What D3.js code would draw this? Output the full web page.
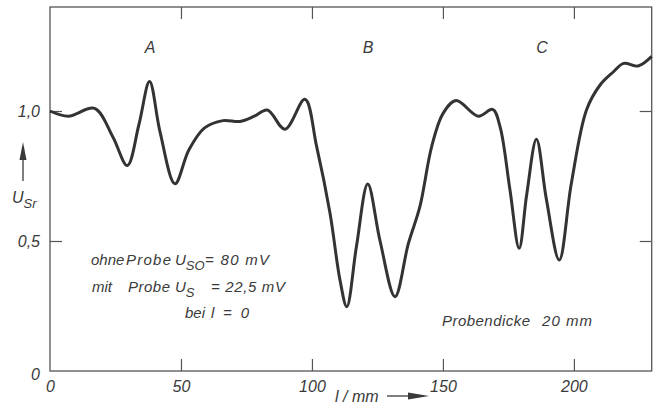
<!DOCTYPE html>
<html><head><meta charset="utf-8">
<script src="https://cdn.jsdelivr.net/npm/d3@7"></script>
<style>
html,body{margin:0;padding:0;background:#fff;}
svg text{font-family:"Liberation Sans","DejaVu Sans",sans-serif;font-style:italic;fill:#3a3a3a;}
</style></head>
<body><svg id="c" width="654" height="411"></svg>
<script>
// data: l / mm versus U_Sr
const lValues = [0, 7, 17, 24, 29.5, 34, 38, 42, 47.7, 53, 59, 66, 72.5, 78, 83, 89.7, 97.3, 101.8, 106.9, 110.7, 113.3, 117, 121.3, 126, 131.7, 136.8, 141.2, 145.7, 150, 155, 163.5, 169, 171.8, 175.6, 179.1, 182, 185.7, 189.5, 194.4, 199, 204.8, 210, 215, 219, 224.5, 229.7];
const usrValues = [1.0, 0.98, 1.01, 0.90, 0.79, 0.95, 1.113, 0.92, 0.72, 0.85, 0.935, 0.963, 0.96, 0.98, 1.004, 0.93, 1.045, 0.863, 0.607, 0.35, 0.247, 0.48, 0.719, 0.50, 0.286, 0.49, 0.632, 0.863, 0.99, 1.04, 0.98, 1.006, 0.94, 0.696, 0.472, 0.68, 0.891, 0.66, 0.427, 0.72, 1.004, 1.10, 1.15, 1.183, 1.173, 1.21];
const xTicks = [0, 50, 100, 150, 200];
const yTicks = [0, 0.5, 1.0];
const peakLabels = ["A", "B", "C"];

const svg = d3.select("#c");
const x = d3.scaleLinear().domain([0, 229.7]).range([50, 651.7]);
const y = d3.scaleLinear().domain([0, 1.4]).range([371, 7]);
const fmt = v => (v === 0 ? "0" : d3.format(".1f")(v).replace(".", ","));
const ink = "#3a3a3a";

// frame
svg.append("rect").attr("x", 50).attr("y", 7).attr("width", 601.7).attr("height", 364)
  .attr("fill", "none").attr("stroke", "#555").attr("stroke-width", 1.3);

// bottom axis (ticks inside)
const gx = svg.append("g").attr("transform", "translate(0,371)")
  .call(d3.axisBottom(x).tickValues(xTicks).tickSize(-12).tickPadding(16).tickFormat(d3.format("d")));
gx.select(".domain").remove();
gx.selectAll(".tick line").attr("stroke", "#555").attr("stroke-width", 1.2).filter(d => d === 0).remove();
gx.selectAll(".tick text").attr("font-size", 16).attr("fill", ink).attr("dy", "0.3em").attr("font-family", null);
// top ticks
const gxt = svg.append("g").attr("transform", "translate(0,7)")
  .call(d3.axisTop(x).tickValues(xTicks.filter(d => d > 0)).tickSize(-12).tickFormat(""));
gxt.select(".domain").remove();
gxt.selectAll(".tick line").attr("stroke", "#555").attr("stroke-width", 1.2);

// left axis
const gy = svg.append("g").attr("transform", "translate(50,0)")
  .call(d3.axisLeft(y).tickValues(yTicks).tickSize(-12).tickPadding(10).tickFormat(fmt));
gy.select(".domain").remove();
gy.selectAll(".tick line").attr("stroke", "#555").attr("stroke-width", 1.2).filter(d => d === 0).remove();
gy.selectAll(".tick text").attr("font-size", 16).attr("fill", ink).attr("font-family", null);
gy.selectAll(".tick text").filter(d => d === 0).attr("dy", "0.55em");
// right ticks
const gyr = svg.append("g").attr("transform", "translate(651.7,0)")
  .call(d3.axisRight(y).tickValues(yTicks.filter(d => d > 0)).tickSize(-12).tickFormat(""));
gyr.select(".domain").remove();
gyr.selectAll(".tick line").attr("stroke", "#555").attr("stroke-width", 1.2);

// curve
const line = d3.line().x((d, i) => x(lValues[i])).y(d => y(d)).curve(d3.curveCatmullRom.alpha(0.5));
svg.append("path").datum(usrValues).attr("d", line)
  .attr("fill", "none").attr("stroke", "#333").attr("stroke-width", 3).attr("stroke-linejoin", "round");

// peak labels
svg.selectAll("text.pk").data(peakLabels).join("text").attr("class", "pk")
  .attr("x", (d, i) => [150, 368, 542][i]).attr("y", 53).attr("text-anchor", "middle")
  .attr("font-size", 16).text(d => d);

// y label with arrow
svg.append("line").attr("x1", 23).attr("x2", 23).attr("y1", 181).attr("y2", 156).attr("stroke", ink).attr("stroke-width", 1.3);
svg.append("path").attr("d", "M23,142 L19.5,160 L26.5,160 Z").attr("fill", ink);
const yl = svg.append("text").attr("x", 12).attr("y", 203).attr("font-size", 16);
yl.append("tspan").text("U");
yl.append("tspan").attr("dy", 5).attr("font-size", 13).text("Sr");

// x label with arrow
svg.append("text").attr("x", 335).attr("y", 402).attr("font-size", 16).text("l / mm");
svg.append("line").attr("x1", 387).attr("x2", 410).attr("y1", 396).attr("y2", 396).attr("stroke", ink).attr("stroke-width", 1.3);
svg.append("path").attr("d", "M429,396 L408,392.5 L408,399.5 Z").attr("fill", ink);

// annotation
function seg(yp, parts) {
  const t = svg.append("text").attr("y", yp).attr("font-size", 15);
  parts.forEach(p => {
    const s = t.append("tspan").text(p.t);
    if (p.x !== undefined) s.attr("x", p.x);
    if (p.w !== undefined) s.attr("textLength", p.w).attr("lengthAdjust", "spacing");
    if (p.sub) s.attr("dy", 5).attr("font-size", 13);
    if (p.up) s.attr("dy", -5);
  });
}
seg(265, [{t: "ohne", x: 91}, {t: "Probe", x: 126, w: 45}, {t: "U", x: 175}, {t: "SO", sub: true}, {t: "= 80 mV", x: 205, w: 64, up: true}]);
seg(292, [{t: "mit", x: 92}, {t: "Probe", x: 128, w: 42}, {t: "U", x: 175}, {t: "S", sub: true}, {t: "= 22,5 mV", x: 211, w: 74, up: true}]);
seg(318, [{t: "bei", x: 185}, {t: "l = 0", x: 211, w: 38}]);
seg(326, [{t: "Probendicke", x: 442, w: 88}, {t: "20 mm", x: 542, w: 50}]);
</script></body></html>
